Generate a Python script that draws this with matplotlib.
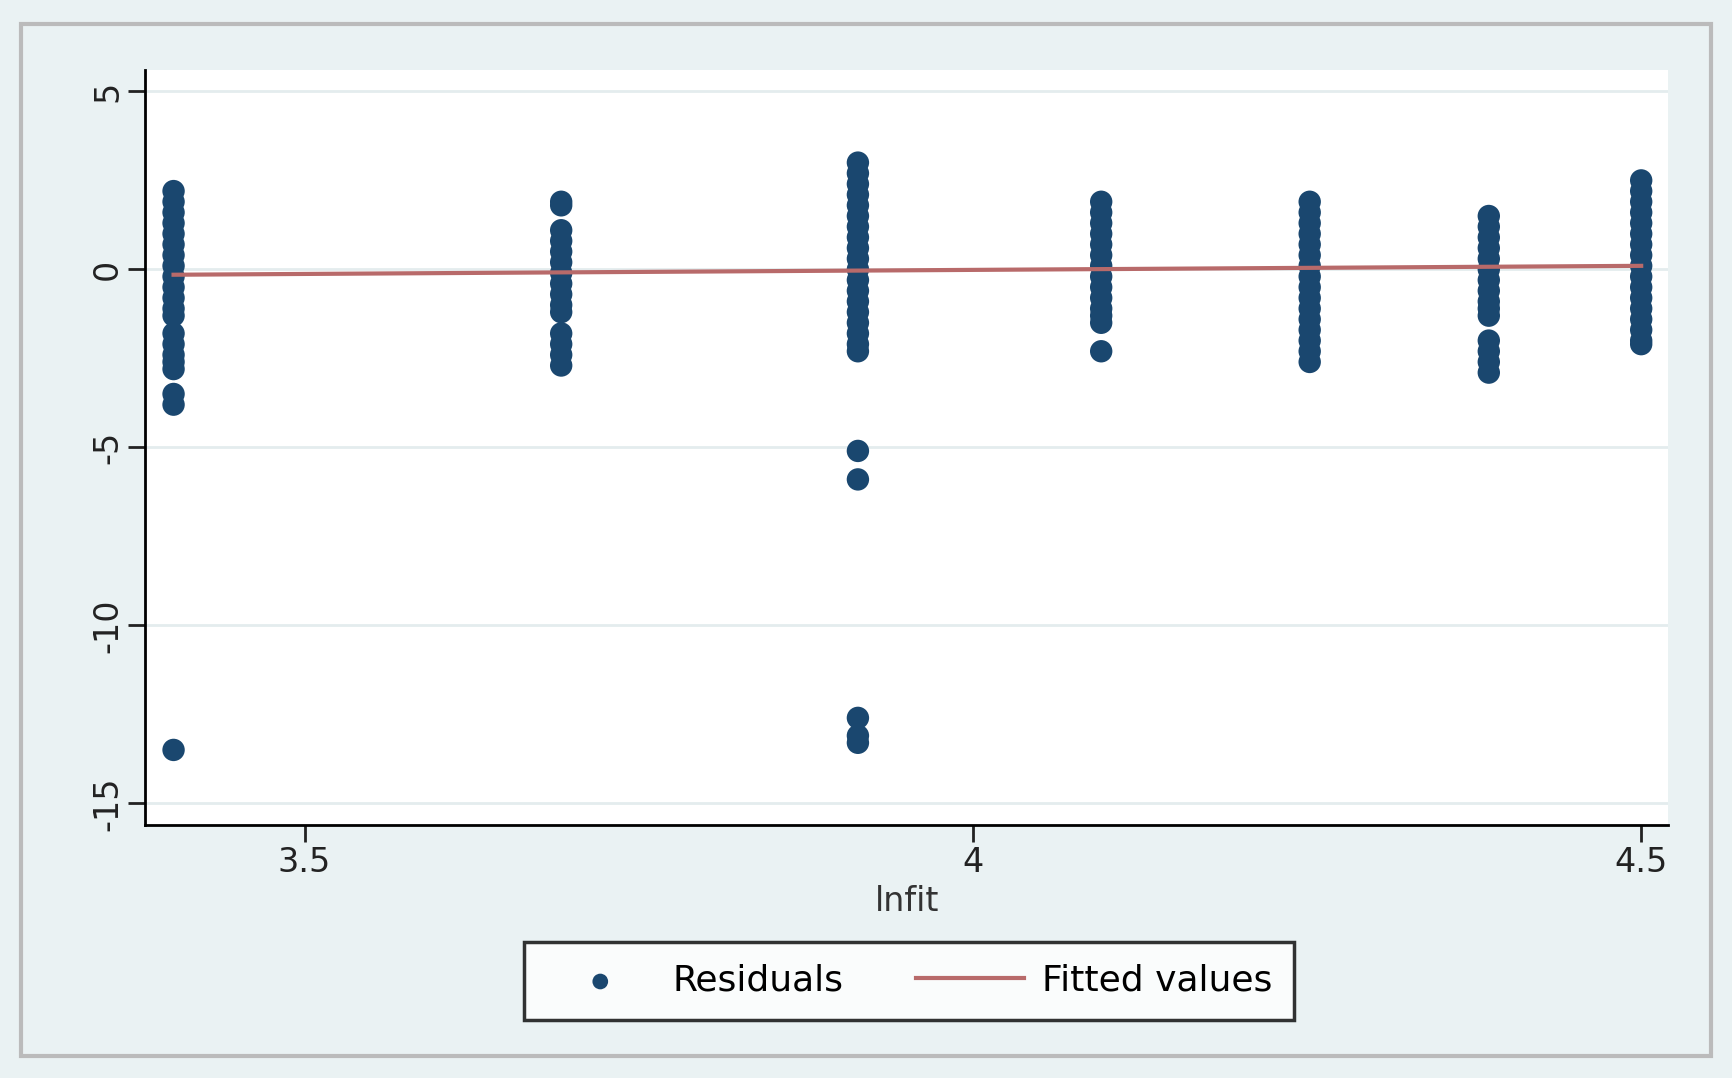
import matplotlib.pyplot as plt
import numpy as np

# cluster x positions and residual values
x_groups = [3.402, 3.692, 3.914, 4.096, 4.252, 4.386, 4.5]
res_groups = [
    [2.2, 1.9, 1.6, 1.3, 1.0, 0.7, 0.4, 0.1, -0.2, -0.5, -0.8, -1.1, -1.3,
     -1.8, -2.1, -2.4, -2.6, -2.8, -3.5, -3.8, -13.5],
    [1.9, 1.8, 1.1, 0.8, 0.5, 0.2, -0.1, -0.4, -0.7, -1.0, -1.2,
     -1.8, -2.1, -2.4, -2.7],
    [3.0, 2.7, 2.4, 2.1, 1.8, 1.5, 1.2, 0.9, 0.6, 0.3, 0.0, -0.3, -0.6,
     -0.9, -1.2, -1.5, -1.8, -2.1, -2.3, -5.1, -5.9, -12.6, -13.1, -13.3],
    [1.9, 1.6, 1.3, 1.0, 0.7, 0.4, 0.1, -0.2, -0.5, -0.8, -1.1, -1.3,
     -1.5, -2.3],
    [1.9, 1.6, 1.3, 1.0, 0.7, 0.4, 0.1, -0.2, -0.5, -0.8, -1.1, -1.4,
     -1.7, -2.0, -2.3, -2.6],
    [1.5, 1.2, 0.9, 0.6, 0.3, 0.0, -0.3, -0.6, -0.9, -1.1, -1.3,
     -2.0, -2.3, -2.6, -2.9],
    [2.5, 2.2, 1.9, 1.6, 1.3, 1.0, 0.7, 0.4, 0.1, -0.2, -0.5, -0.8,
     -1.1, -1.4, -1.7, -2.0, -2.1],
]
fit_x = [3.402, 4.5]
fit_y = [-0.15, 0.1]

navy = "#1a476f"
bg = "#eaf2f3"

fig = plt.figure(figsize=(17.32, 10.78), dpi=100, facecolor=bg)
ax = fig.add_axes([0.084, 0.235, 0.879, 0.70])
ax.set_facecolor("white")

for xv, ys in zip(x_groups, res_groups):
    ax.scatter([xv] * len(ys), ys, s=260, color=navy, edgecolors="none",
               zorder=3, label="Residuals" if xv == x_groups[0] else None)
ax.plot(fit_x, fit_y, color="#b86a6a", lw=3, zorder=4, label="Fitted values")

ax.set_xlim(3.381, 4.52)
ax.set_ylim(-15.6, 5.6)
ax.set_yticks([5, 0, -5, -10, -15])
ax.set_yticklabels(["5", "0", "-5", "-10", "-15"], rotation=90, va="center")
ax.set_xticks([3.5, 4, 4.5])
ax.set_xticklabels(["3.5", "4", "4.5"])
ax.grid(axis="y", color="#e4ecee", lw=2)
ax.tick_params(labelsize=24, length=12, width=2, colors="#222222")
for s in ["top", "right"]:
    ax.spines[s].set_visible(False)
for s in ["left", "bottom"]:
    ax.spines[s].set_linewidth(2)
ax.set_xlabel("lnfit", fontsize=24, color="#333333", labelpad=4)

leg = fig.legend(loc="center", bbox_to_anchor=(0.525, 0.09), ncol=2,
                 fontsize=26, frameon=True, fancybox=False, handlelength=3,
                 handletextpad=0.5, columnspacing=2, markerscale=0.7,
                 borderpad=0.6)
leg.get_frame().set_edgecolor("black")
leg.get_frame().set_linewidth(2.5)

fig.patches.append(plt.Rectangle((0.012, 0.02), 0.976, 0.958, transform=fig.transFigure,
                                 fill=False, edgecolor="#bbbbbb", lw=3))
fig.savefig("out.png", facecolor=bg)
